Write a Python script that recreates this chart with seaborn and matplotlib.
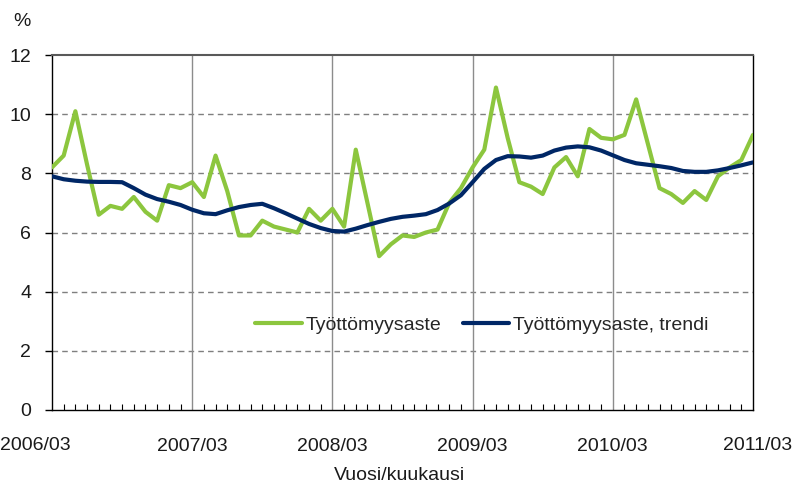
import pandas as pd
import numpy as np
import matplotlib
matplotlib.use("Agg")
import matplotlib.pyplot as plt
import seaborn as sns
from matplotlib.ticker import MultipleLocator

# Monthly unemployment rate 2006/03 - 2011/03 (%)
months = pd.period_range("2006-03", "2011-03", freq="M")
rate = [8.2, 8.6, 10.1, 8.3, 6.6, 6.9, 6.8, 7.2, 6.7, 6.4,
        7.6, 7.5, 7.7, 7.2, 8.6, 7.4, 5.9, 5.9, 6.4, 6.2,
        6.1, 6.0, 6.8, 6.4, 6.8, 6.2, 8.8, 7.0, 5.2, 5.6,
        5.9, 5.85, 6.0, 6.1, 7.0, 7.5, 8.2, 8.8, 10.9, 9.2,
        7.7, 7.55, 7.3, 8.2, 8.55, 7.9, 9.5, 9.2, 9.15, 9.3,
        10.5, 9.0, 7.5, 7.3, 7.0, 7.4, 7.1, 7.9, 8.2, 8.45, 9.3]
trend = [7.9, 7.8, 7.75, 7.72, 7.71, 7.71, 7.7, 7.5, 7.28, 7.13,
         7.04, 6.93, 6.77, 6.65, 6.62, 6.75, 6.86, 6.93, 6.97, 6.82,
         6.65, 6.47, 6.29, 6.15, 6.05, 6.03, 6.13, 6.25, 6.36, 6.46,
         6.53, 6.57, 6.62, 6.76, 6.98, 7.26, 7.7, 8.15, 8.45, 8.58,
         8.57, 8.53, 8.6, 8.77, 8.87, 8.91, 8.88, 8.77, 8.61, 8.45,
         8.34, 8.29, 8.24, 8.18, 8.08, 8.05, 8.05, 8.1, 8.18, 8.27, 8.37]
tick_labels = ["2006/03", "2007/03", "2008/03", "2009/03", "2010/03", "2011/03"]

df = pd.DataFrame({
    "kk": np.arange(len(months)),
    "Työttömyysaste": rate,
    "Työttömyysaste, trendi": trend,
})
long = df.melt(id_vars="kk", var_name="sarja", value_name="arvo")

sns.set_style("white")
plt.rcParams["font.family"] = ["Liberation Sans", "DejaVu Sans"]
FS = 14

fig = plt.figure(figsize=(7.92, 4.93), dpi=100)
ax = fig.add_axes([52 / 792, 1 - 410 / 493, 701 / 792, 355 / 493])

palette = {"Työttömyysaste": "#8cc63e", "Työttömyysaste, trendi": "#002766"}
sns.lineplot(data=long, x="kk", y="arvo", hue="sarja", palette=palette,
             linewidth=3.0, ax=ax, zorder=3)

ax.set_xlim(0, 60)
ax.set_ylim(0, 12)
ax.set_xticks(np.arange(0, 61, 12))
# first and last labels sit flush with the figure edges, drawn below
ax.set_xticklabels([""] + tick_labels[1:-1] + [""])
ax.xaxis.set_minor_locator(MultipleLocator(1))
ax.yaxis.set_major_locator(MultipleLocator(2))
ax.tick_params(axis="x", which="major", direction="out", length=4, width=1,
               labelsize=FS, pad=16, color="black", labelcolor="#1a1a1a")
ax.tick_params(axis="x", which="minor", direction="in", length=4, width=0.8,
               color="black", bottom=True)
ax.tick_params(axis="y", direction="out", length=5, width=1, labelsize=FS,
               color="black", pad=10, left=True, labelcolor="#1a1a1a")

label_y = 1 - 445 / 493
fig.text(0.0, label_y, tick_labels[0], fontsize=FS, ha="left", va="center", color="#1a1a1a")
fig.text(1.0, label_y, tick_labels[-1], fontsize=FS, ha="right", va="center", color="#1a1a1a")

for v in range(2, 12, 2):
    ax.axhline(v, color="#7f7f7f", linestyle=(0, (4, 3)), linewidth=1, zorder=1)
for m in range(12, 60, 12):
    ax.axvline(m, color="#8c8c8c", linewidth=1, zorder=1)

for side in ["left", "bottom", "right"]:
    ax.spines[side].set_color("black")
    ax.spines[side].set_linewidth(1)
ax.spines["top"].set_color("#595959")
ax.spines["top"].set_linewidth(1.5)

ax.set_xlabel("")
ax.set_ylabel("")
fig.text(400 / 792, 1 - 476 / 493, "Vuosi/kuukausi", fontsize=FS, ha="center",
         va="center", color="#1a1a1a")
fig.text(22 / 792, 1 - 21 / 493, "%", fontsize=FS, ha="center", va="center",
         color="#1a1a1a")

ax.legend(title=None, frameon=False, ncol=2, fontsize=FS, loc="center left",
          bbox_to_anchor=(203 / 701, 0.2394),
          borderpad=0, borderaxespad=0, handlelength=2.4, columnspacing=1.1,
          handletextpad=0.2)

fig.savefig("out.png", dpi=100)
